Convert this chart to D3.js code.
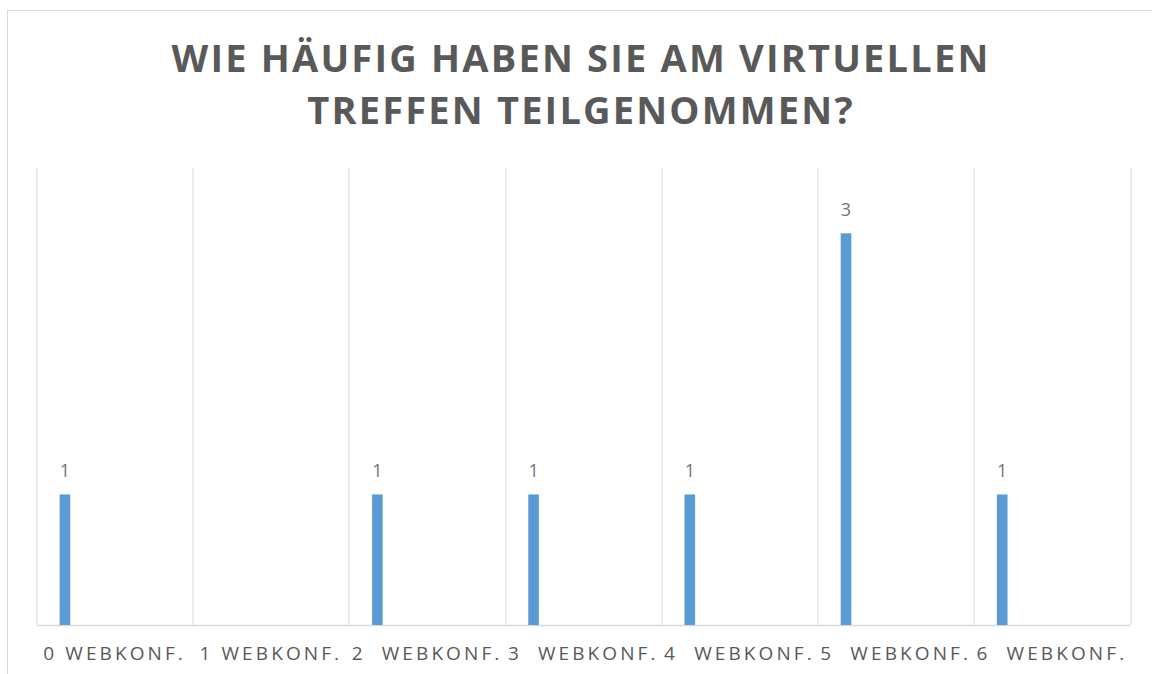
<!DOCTYPE html>
<html>
<head>
<meta charset="utf-8">
<script src="https://cdnjs.cloudflare.com/ajax/libs/d3/7.8.5/d3.min.js"></script>
<style>
  body { margin: 0; background: #fff; }
  text { font-family: "Open Sans", sans-serif; white-space: pre; }
</style>
</head>
<body>
<svg width="1152" height="674"></svg>
<script>
// data
var titleLines = ["WIE HÄUFIG HABEN SIE AM VIRTUELLEN", "TREFFEN TEILGENOMMEN?"];
var categories = ["0 WEBKONF.", "1 WEBKONF.", "2  WEBKONF.", "3  WEBKONF.", "4  WEBKONF.", "5  WEBKONF.", "6  WEBKONF."];
var values = [1, null, 1, 1, 1, 3, 1];

var data = categories.map(function (c, i) { return { cat: c, value: values[i] }; });

var svg = d3.select("svg"),
    margin = { top: 168, right: 22, bottom: 49, left: 36.5 },
    width = +svg.attr("width") - margin.left - margin.right,
    height = +svg.attr("height") - margin.top - margin.bottom;

// chart area border
svg.append("rect")
    .attr("x", 7.5).attr("y", 10.5)
    .attr("width", 1200).attr("height", 700)
    .attr("fill", "none")
    .attr("stroke", "#d9d9d9");

// title
svg.append("g").selectAll("text")
    .data(titleLines)
    .enter().append("text")
    .attr("x", 581)
    .attr("y", function (d, i) { return 72 + i * 52; })
    .attr("text-anchor", "middle")
    .attr("fill", "#595959")
    .style("font-size", "38px")
    .style("font-weight", "bold")
    .style("letter-spacing", "2.2px")
    .text(function (d) { return d; });

var x = d3.scaleBand().domain(categories).range([0, width]).padding(0),
    y = d3.scaleLinear().domain([0, 3.5]).range([height, 0]);

var g = svg.append("g")
    .attr("transform", "translate(" + margin.left + "," + margin.top + ")");

// vertical gridlines on category boundaries
var bounds = categories.map(function (c) { return x(c); }).concat([width]);
g.selectAll(".grid")
    .data(bounds)
    .enter().append("line")
    .attr("class", "grid")
    .attr("x1", function (d) { return Math.round(d) + 0.5; })
    .attr("x2", function (d) { return Math.round(d) + 0.5; })
    .attr("y1", 0)
    .attr("y2", height)
    .attr("stroke", "#d9d9d9");

// x axis
var xAxis = g.append("g")
    .attr("transform", "translate(0," + height + ")")
    .call(d3.axisBottom(x).tickSize(0).tickPadding(22));
xAxis.select(".domain").attr("stroke", "#d9d9d9").attr("stroke-width", 1.5);
xAxis.selectAll("text")
    .attr("fill", "#595959")
    .style("font-size", "19px")
    .style("letter-spacing", "3.1px")
    .style("font-family", "'Open Sans', sans-serif");

// bars sit near the left of each category (clustered layout)
var barOffset = x.bandwidth() * 0.148,
    barWidth = x.bandwidth() * 0.068;

var shown = data.filter(function (d) { return d.value !== null; });

g.selectAll(".bar")
    .data(shown)
    .enter().append("rect")
    .attr("class", "bar")
    .attr("fill", "#5b9bd5")
    .attr("x", function (d) { return x(d.cat) + barOffset; })
    .attr("y", function (d) { return y(d.value); })
    .attr("width", barWidth)
    .attr("height", function (d) { return height - y(d.value); });

// value labels
g.selectAll(".lbl")
    .data(shown)
    .enter().append("text")
    .attr("class", "lbl")
    .attr("x", function (d) { return x(d.cat) + barOffset + barWidth / 2; })
    .attr("y", function (d) { return y(d.value) - 17; })
    .attr("text-anchor", "middle")
    .attr("fill", "#757575")
    .style("font-size", "18px")
    .text(function (d) { return d.value; });
</script>
</body>
</html>
